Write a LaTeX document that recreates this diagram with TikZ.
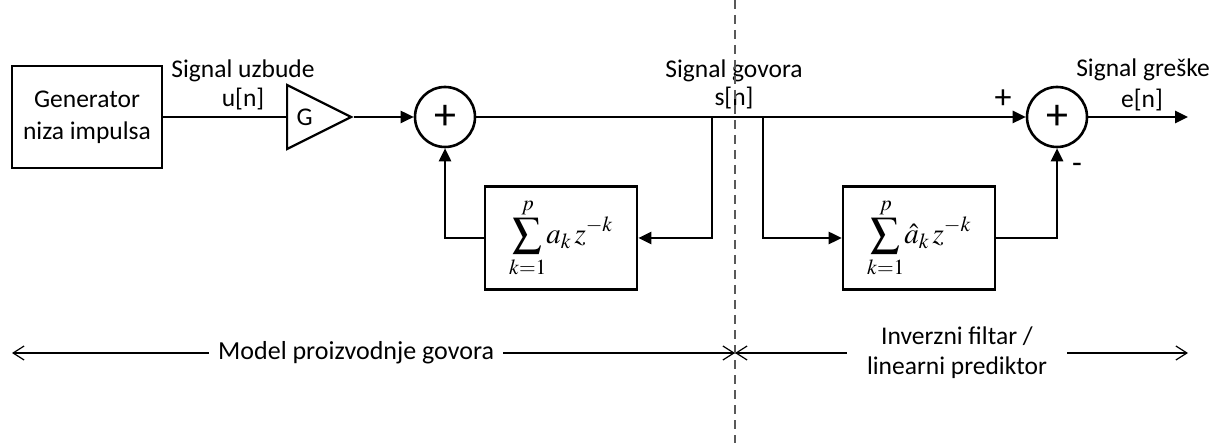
\documentclass[tikz,border=0pt]{standalone}
\usepackage{mathptmx}
\usepackage{fontspec}
\setmainfont{Carlito}
\usetikzlibrary{shapes.geometric, arrows.meta, positioning}
\tikzstyle{block} = [rectangle, draw=black, line width=2.6pt, minimum width=152pt, minimum height=103pt, align=center, text centered]
\tikzstyle{adder} = [circle, draw=black, line width=2.6pt, minimum size=60pt, inner sep=0pt, font=\fontsize{44}{44}\selectfont]
\tikzstyle{amp} = [isosceles triangle, isosceles triangle stretches, draw=black, line width=2.2pt, minimum width=64pt, minimum height=64pt, inner sep=0pt]
\tikzstyle{wire} = [line width=2.6pt]
\tikzstyle{arrow} = [line width=2.6pt, -{Triangle[length=13pt,width=12pt]}]
\tikzstyle{span} = [line width=1.2pt, {Straight Barb[length=11pt,width=14pt]}-{Straight Barb[length=11pt,width=14pt]}]
\tikzstyle{divider} = [line width=1.3pt, black!65, dash pattern=on 9pt off 6pt]
\tikzstyle{tag} = [inner sep=0pt, anchor=base]
\tikzstyle{formula} = [font=\fontsize{29}{34}\selectfont]

\begin{document}
\begin{tikzpicture}[x=1pt, y=-1pt, font=\fontsize{25.5}{32}\selectfont]
    \useasboundingbox (0,0) rectangle (1217,443);

    % main chain
    \node (gen) [block, minimum width=150pt, minimum height=102pt] at (87,117) {Generator\\niza impulsa};
    \node (gain) [amp, anchor=lower side] at (286,117) {G};
    \node (sum1) [adder] at (445,117) {+};
    \node (fb1) [block, formula] at (561,238) {$\displaystyle\sum_{k=1}^{p}\! a_k\, z^{-k}$};
    \node (pred) [block, formula] at (919,238) {$\displaystyle\sum_{k=1}^{p}\! \hat{a}_k\, z^{-k}$};
    \node (sum2) [adder] at (1057,117) {+};

    % signal labels
    \node (uzb) [tag] at (243,78) {Signal uzbude};
    \node (un) [tag] at (243,107) {u[n]};
    \node (gov) [tag] at (734,78) {Signal govora};
    \node (sn) [tag] at (734,106) {s[n]};
    \node (gre) [tag] at (1143,77) {Signal greške};
    \node (en) [tag] at (1142,108) {e[n]};
    \node (plus) [font=\fontsize{34}{34}\selectfont] at (1003,99) {+};
    \node (minus) [font=\fontsize{32}{32}\selectfont] at (1077,168) {-};

    \coordinate (b1) at (712,117);
    \coordinate (b2) at (763,117);
    \coordinate (eout) at (1188,117);

    \draw [wire] (gen.east) -- (gain.lower side);
    \draw [arrow] (gain.apex) -- (sum1.west);
    \draw [arrow] (sum1.east) -- (sum2.west);
    \draw [arrow] (b1) |- (fb1.east);
    \draw [arrow] (fb1.west) -| (sum1.south);
    \draw [arrow] (b2) |- (pred.west);
    \draw [arrow] (pred.east) -| (sum2.south);
    \draw [arrow] (sum2.east) -- (eout);

    % ranges of the two parts
    \coordinate (mL) at (12,353);
    \coordinate (mM) at (735,353);
    \coordinate (mR) at (1188,353);
    \draw [span] (mL) -- node[pos=0.476, fill=white, inner xsep=9pt, font=\fontsize{26}{30}\selectfont] (model) {Model proizvodnje govora} (mM);
    \draw [span] (mM) -- node[pos=0.49, fill=white, inner xsep=20pt, align=center, font=\fontsize{25.5}{30}\selectfont] (inv) {Inverzni filtar /\\linearni prediktor} (mR);

    \coordinate (dtop) at (735,0);
    \coordinate (dbot) at (735,443);
    \draw [divider] (dtop) -- (dbot);
\end{tikzpicture}
\end{document}
